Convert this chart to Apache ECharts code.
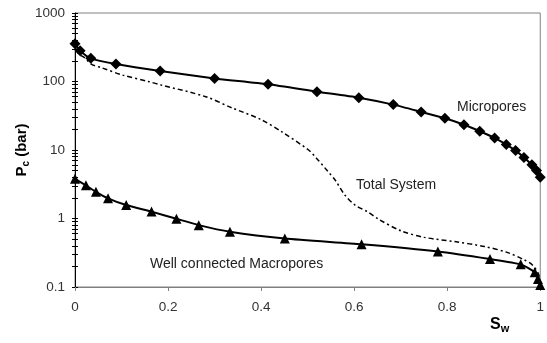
<!DOCTYPE html>
<html>
<head>
<meta charset="utf-8">
<script src="https://cdn.jsdelivr.net/npm/echarts@6/dist/echarts.min.js"></script>
<style>
  html, body { margin: 0; padding: 0; background: #ffffff; }
  #chart { width: 547px; height: 343px; }
</style>
</head>
<body>
<div id="chart"></div>
<script>
// Capillary pressure vs. water saturation for the pore systems
const swMicro = [0, 0.011, 0.034, 0.088, 0.183, 0.30, 0.415, 0.52, 0.61, 0.684, 0.744, 0.795, 0.836, 0.870, 0.902, 0.927, 0.947, 0.965, 0.982, 0.992, 1.0];
const pcMicro = [355, 282, 218, 180, 142, 111, 91, 71, 58, 46, 36, 29, 23.4, 18.8, 15, 12, 9.8, 7.8, 6.1, 5.0, 4.0];

const swMacro = [0, 0.0235, 0.045, 0.071, 0.110, 0.1645, 0.218, 0.266, 0.333, 0.451, 0.616, 0.780, 0.892, 0.958, 0.988, 0.995, 1.0];
const pcMacro = [3.8, 3.05, 2.45, 1.97, 1.57, 1.26, 0.99, 0.80, 0.64, 0.51, 0.42, 0.33, 0.256, 0.214, 0.164, 0.131, 0.107];

const swTotal = [0, 0.0064, 0.0214, 0.0357, 0.057, 0.1026, 0.160, 0.185, 0.281, 0.338, 0.399, 0.444, 0.502, 0.519, 0.541, 0.559, 0.580, 0.602, 0.630, 0.652, 0.701, 0.751, 0.816, 0.880, 0.929, 0.965, 0.983, 0.997, 1.0];
const pcTotal = [352, 261, 220, 178, 159, 124, 99, 89, 60, 41, 28, 18.5, 10, 7.6, 5.1, 3.65, 2.2, 1.57, 1.24, 0.98, 0.66, 0.53, 0.46, 0.39, 0.32, 0.25, 0.21, 0.15, 0.10];

// Axis ticks
const yMajorTicks = [0.1, 1, 10, 100, 1000];
const yMinorTicks = [0.2, 0.3, 0.4, 0.5, 0.6, 0.7, 0.8, 0.9,
                     2, 3, 4, 5, 6, 7, 8, 9,
                     20, 30, 40, 50, 60, 70, 80, 90,
                     200, 300, 400, 500, 600, 700, 800, 900];
const xTickValues = [0, 0.2, 0.4, 0.6, 0.8, 1];

const zip = (xs, ys) => xs.map((x, i) => [x, ys[i]]);
const allYTicks = yMajorTicks.concat(yMinorTicks);
const FONT = 'Liberation Sans, Arial, sans-serif';

const chart = echarts.init(document.getElementById('chart'), null, { renderer: 'canvas' });

const yBase = {
  type: 'log',
  logBase: 10,
  min: 0.1,
  max: 1000,
  position: 'left',
  splitLine: { show: false }
};

chart.setOption({
  animation: false,
  backgroundColor: '#ffffff',
  grid: {
    left: 75, right: 4, top: 13, bottom: 56,
    show: true, borderColor: '#808080', borderWidth: 1, backgroundColor: 'transparent'
  },
  xAxis: {
    type: 'value',
    min: 0, max: 1, interval: 0.2,
    axisLine: { lineStyle: { color: '#808080', width: 1 } },
    axisTick: { show: true, length: 4, lineStyle: { color: '#808080' }, customValues: xTickValues },
    axisLabel: {
      color: '#333333', fontFamily: FONT, fontSize: 13.5, margin: 13,
      customValues: xTickValues,
      formatter: v => String(v)
    },
    splitLine: { show: false }
  },
  yAxis: [
    Object.assign({}, yBase, {
      axisLine: { show: true, lineStyle: { color: '#000000', width: 1 } },
      axisTick: { show: true, inside: false, length: 3, lineStyle: { color: '#000000' }, customValues: allYTicks },
      axisLabel: {
        color: '#333333', fontFamily: FONT, fontSize: 13.5, margin: 10,
        customValues: yMajorTicks,
        formatter: v => String(v)
      },
      name: '{b|P}{s|c}{b| (bar)}',
      nameLocation: 'middle',
      nameGap: 44,
      nameMoveOverlap: false,
      nameRotate: 90,
      nameTextStyle: {
        rich: {
          b: { fontFamily: FONT, fontSize: 15, fontWeight: 'bold', color: '#000', lineHeight: 18 },
          s: { fontFamily: FONT, fontSize: 10, fontWeight: 'bold', color: '#000', lineHeight: 10, verticalAlign: 'bottom' }
        }
      }
    }),
    Object.assign({}, yBase, {
      axisLine: { show: false },
      axisTick: { show: true, inside: true, length: 3, lineStyle: { color: '#000000' }, customValues: allYTicks },
      axisLabel: { show: false }
    })
  ],
  graphic: [
    {
      type: 'text', left: 490, top: 317,
      style: {
        text: '{b|S}{s|w}',
        rich: {
          b: { fontFamily: FONT, fontSize: 16, fontWeight: 'bold', fill: '#000', lineHeight: 18 },
          s: { fontFamily: FONT, fontSize: 11, fontWeight: 'bold', fill: '#000', lineHeight: 10, verticalAlign: 'bottom' }
        }
      }
    },
    { type: 'text', left: 457, top: 100, style: { text: 'Micropores', fontFamily: FONT, fontSize: 14, fill: '#222' } },
    { type: 'text', left: 356, top: 178, style: { text: 'Total System', fontFamily: FONT, fontSize: 14, fill: '#222' } },
    { type: 'text', left: 150, top: 257, style: { text: 'Well connected Macropores', fontFamily: FONT, fontSize: 14, fill: '#222' } }
  ],
  series: [
    {
      name: 'Total System',
      type: 'line',
      data: zip(swTotal, pcTotal),
      showSymbol: false,
      smooth: 0.3,
      lineStyle: { color: '#000', width: 1.5, type: [5, 3, 2, 3] },
      z: 2
    },
    {
      name: 'Micropores',
      type: 'line',
      data: zip(swMicro, pcMicro),
      symbol: 'diamond',
      symbolSize: 11,
      smooth: 0.2,
      lineStyle: { color: '#000', width: 2 },
      itemStyle: { color: '#000' },
      z: 3
    },
    {
      name: 'Well connected Macropores',
      type: 'line',
      data: zip(swMacro, pcMacro),
      symbol: 'triangle',
      symbolSize: 10,
      smooth: 0.2,
      lineStyle: { color: '#000', width: 2 },
      itemStyle: { color: '#000' },
      z: 3
    }
  ]
});
</script>
</body>
</html>
